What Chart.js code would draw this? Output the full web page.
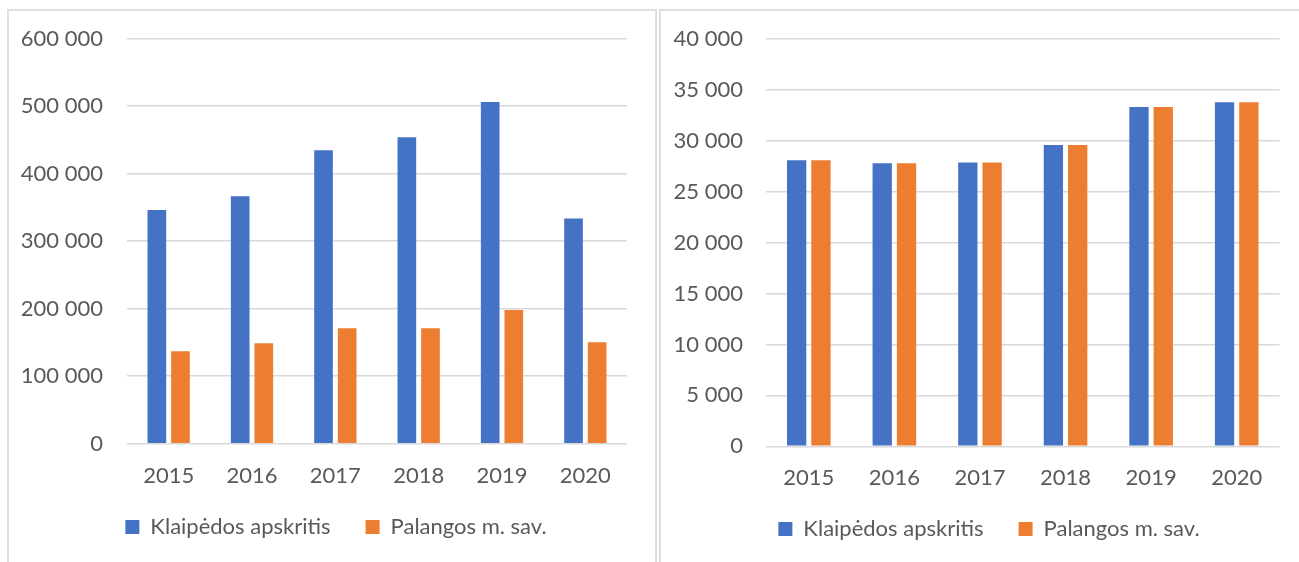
<!DOCTYPE html>
<html>
<head>
<meta charset="utf-8">
<script src="https://cdn.jsdelivr.net/npm/chart.js@4.4.1/dist/chart.umd.min.js"></script>
<style>
  html, body { margin:0; padding:0; background:#fff; overflow:hidden; width:1299px; height:562px; position:relative; }
  .panel { position:absolute; box-sizing:border-box; border:2px solid #dedede; border-bottom:none; }
  .wrap { position:absolute; top:0; height:562px; }
</style>
</head>
<body>
<div class="panel" style="left:7px; top:9px; width:650px; height:560px;"></div>
<div class="panel" style="left:659px; top:9px; width:700px; height:560px;"></div>
<div class="wrap" style="left:0px; width:657px;"><canvas id="c1"></canvas></div>
<div class="wrap" style="left:657px; width:680px;"><canvas id="c2"></canvas></div>
<script>
const categories = ['2015', '2016', '2017', '2018', '2019', '2020'];
const seriesNames = ['Klaipėdos apskritis', 'Palangos m. sav.'];

// Left chart
const leftKlaipeda = [346100, 366300, 434400, 453700, 506000, 333300];
const leftPalanga  = [136900, 148700, 170900, 170900, 198100, 150200];
const leftTicks = { min: 0, max: 600000, step: 100000 };

// Right chart
const rightKlaipeda = [28090, 27790, 27860, 29590, 33330, 33790];
const rightPalanga  = [28090, 27790, 27860, 29590, 33330, 33790];
const rightTicks = { min: 0, max: 40000, step: 5000 };

const colors = ['#4472C4', '#ED7D31'];
const textColor = '#595959';
const fontFamily = 'Lato, "Open Sans", sans-serif';

function fmt(v) {
  return String(v).replace(/\B(?=(\d{3})+(?!\d))/g, ' ');
}

function makeChart(id, a, b, t, cfg) {
  return new Chart(document.getElementById(id), {
    type: 'bar',
    data: {
      labels: categories,
      datasets: [
        { label: seriesNames[0], data: a, backgroundColor: colors[0], categoryPercentage: cfg.cat, barPercentage: cfg.bar },
        { label: seriesNames[1], data: b, backgroundColor: colors[1], categoryPercentage: cfg.cat, barPercentage: cfg.bar }
      ]
    },
    options: {
      responsive: true,
      maintainAspectRatio: false,
      animation: false,
      layout: { padding: cfg.padding },
      plugins: {
        tooltip: { enabled: false },
        legend: {
          position: 'bottom',
          labels: {
            boxWidth: 14, boxHeight: 14, padding: 35,
            color: textColor,
            font: { family: fontFamily, size: 22 }
          }
        }
      },
      scales: {
        x: {
          grid: { display: false, drawTicks: false },
          border: { display: false },
          ticks: { color: textColor, mirror: true, padding: cfg.xPad, font: { family: fontFamily, size: 22 } },
          afterFit: s => { s.height = cfg.xH; }
        },
        y: {
          min: t.min, max: t.max,
          grid: { color: '#d9d9d9', lineWidth: 1.5, drawTicks: false },
          border: { display: false },
          ticks: {
            stepSize: t.step, color: textColor, padding: cfg.yPad,
            font: { family: fontFamily, size: 22 },
            callback: v => fmt(v)
          },
          afterFit: s => { s.width = cfg.yW; }
        },
        spacer: {
          type: 'linear', position: 'right', display: true,
          grid: { display: false, drawTicks: false },
          border: { display: false },
          ticks: { display: false },
          afterFit: s => { s.width = cfg.spacerW; }
        }
      }
    }
  });
}

makeChart('c1', leftKlaipeda, leftPalanga, leftTicks, {
  cat: 0.567, bar: 0.79,
  padding: { left: 15, right: 0, top: 38.5, bottom: 14 },
  xPad: -45, xH: 37.3, yPad: 24, yW: 112, spacerW: 30
});
makeChart('c2', rightKlaipeda, rightPalanga, rightTicks, {
  cat: 0.568, bar: 0.794,
  padding: { left: 15, right: 31, top: 39, bottom: 12 },
  xPad: -44.4, xH: 36.7, yPad: 23, yW: 94, spacerW: 26.5
});
</script>
</body>
</html>
